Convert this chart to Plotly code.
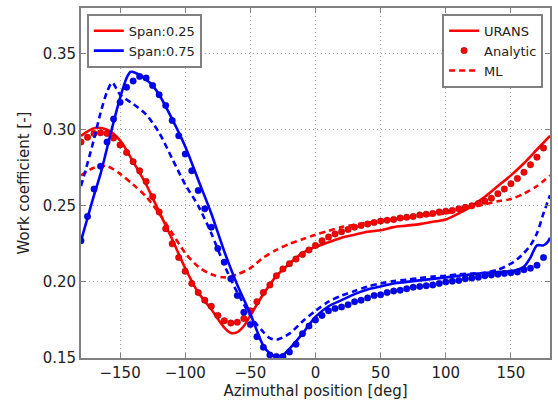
import plotly.graph_objects as go

# ---------------- data ----------------
# Span 0.25 (red)
red_urans_x = [-180, -170, -160, -150, -140, -130, -120, -110, -100, -90, -80, -70, -65, -60, -55, -50,
               -40, -30, -20, -10, 0, 10, 20, 30, 40, 50, 60, 70, 80, 90, 100, 110, 120, 130, 140, 150,
               160, 170, 180]
red_urans_y = [0.296, 0.301, 0.300, 0.293, 0.279, 0.264, 0.246, 0.228, 0.209, 0.193, 0.182, 0.170, 0.1665,
               0.167, 0.171, 0.178, 0.192, 0.204, 0.212, 0.219, 0.223, 0.226, 0.229, 0.231, 0.233, 0.234,
               0.236, 0.237, 0.238, 0.2395, 0.241, 0.245, 0.250, 0.256, 0.263, 0.270, 0.278, 0.287, 0.296]

analytic_x = list(range(-180, 180, 5))
red_analytic_y = [0.292, 0.295, 0.2975, 0.298, 0.2975, 0.2945, 0.290, 0.285, 0.279, 0.273,
                  0.266, 0.256, 0.246, 0.235, 0.225, 0.216, 0.207, 0.199, 0.193, 0.188,
                  0.184, 0.178, 0.1745, 0.173, 0.1735, 0.176, 0.181, 0.187, 0.193, 0.198,
                  0.204, 0.2085, 0.212, 0.215, 0.218, 0.221, 0.224, 0.227, 0.2295, 0.2315,
                  0.233, 0.2345, 0.236, 0.237, 0.238, 0.239, 0.240, 0.2405, 0.241, 0.242,
                  0.2425, 0.243, 0.244, 0.2445, 0.245, 0.246, 0.2465, 0.247, 0.248, 0.249,
                  0.250, 0.2515, 0.253, 0.255, 0.258, 0.261, 0.2645, 0.268, 0.272, 0.277,
                  0.282, 0.288]

red_ml_x = [-180, -170, -160, -150, -140, -130, -120, -110, -100, -90, -80, -70, -60, -50, -40, -30,
            -20, -10, 0, 10, 20, 30, 40, 50, 60, 70, 80, 90, 100, 110, 120, 130, 140, 150, 160, 170, 180]
red_ml_y = [0.270, 0.275, 0.276, 0.271, 0.264, 0.256, 0.245, 0.232, 0.219, 0.210, 0.205, 0.203, 0.205,
            0.209, 0.216, 0.221, 0.225, 0.228, 0.231, 0.2335, 0.236, 0.2375, 0.239, 0.240, 0.241, 0.242,
            0.243, 0.244, 0.245, 0.247, 0.249, 0.251, 0.253, 0.2545, 0.258, 0.263, 0.270]

# Span 0.75 (blue)
blue_urans_x = [-180, -175, -170, -165, -160, -155, -150, -145, -142, -140, -135, -130, -125, -120,
                -110, -100, -90, -80, -70, -60, -50, -40, -35, -30, -25, -20, -10, 0, 10, 20, 30, 40,
                50, 60, 70, 80, 90, 100, 110, 120, 130, 140, 150, 155, 160, 165, 170, 175, 178, 180]
blue_urans_y = [0.227, 0.242, 0.257, 0.271, 0.288, 0.305, 0.321, 0.334, 0.338, 0.338, 0.336, 0.333,
                0.329, 0.323, 0.307, 0.289, 0.267, 0.245, 0.220, 0.198, 0.179, 0.158, 0.153, 0.151,
                0.152, 0.156, 0.166, 0.177, 0.184, 0.188, 0.192, 0.195, 0.197, 0.199, 0.200, 0.201,
                0.202, 0.203, 0.204, 0.205, 0.206, 0.2065, 0.207, 0.208, 0.210, 0.216, 0.224, 0.224,
                0.226, 0.229]

blue_analytic_y = [0.227, 0.243, 0.261, 0.276, 0.292, 0.307, 0.318, 0.328, 0.332, 0.335,
                   0.334, 0.329, 0.323, 0.316, 0.306, 0.296, 0.284, 0.273, 0.260, 0.248,
                   0.236, 0.222, 0.213, 0.202, 0.191, 0.180, 0.172, 0.164, 0.157, 0.152,
                   0.151, 0.151, 0.154, 0.159, 0.166, 0.171, 0.175, 0.178, 0.181, 0.1825,
                   0.1835, 0.185, 0.187, 0.188, 0.1895, 0.191, 0.1915, 0.193, 0.194, 0.1945,
                   0.1955, 0.1965, 0.197, 0.1975, 0.198, 0.199, 0.200, 0.2005, 0.201, 0.202,
                   0.2025, 0.203, 0.204, 0.2045, 0.205, 0.2055, 0.206, 0.2065, 0.208, 0.209,
                   0.211, 0.216]

blue_ml_x = [-180, -175, -170, -165, -160, -156, -150, -140, -130, -120, -110, -100, -90, -80, -70,
             -60, -50, -45, -40, -35, -30, -20, -10, 0, 10, 20, 30, 40, 50, 60, 70, 80, 90, 100, 110,
             120, 130, 140, 150, 155, 160, 165, 170, 175, 180]
blue_ml_y = [0.263, 0.278, 0.294, 0.311, 0.325, 0.331, 0.323, 0.317, 0.310, 0.298, 0.281, 0.264,
             0.250, 0.232, 0.211, 0.193, 0.178, 0.172, 0.167, 0.163, 0.162, 0.166, 0.174, 0.181,
             0.187, 0.191, 0.194, 0.197, 0.199, 0.2005, 0.2015, 0.2025, 0.2035, 0.204, 0.205,
             0.2055, 0.206, 0.208, 0.212, 0.215, 0.219, 0.224, 0.232, 0.245, 0.257]

x_ticks = [-150, -100, -50, 0, 50, 100, 150]
y_ticks = [0.15, 0.20, 0.25, 0.30, 0.35]

RED = "#ff0000"
BLUE = "#0000ff"
FONT = "DejaVu Sans"
DASH = "6px,4px"

fig = go.Figure()

for color, edge, ux, uy, ay, mx, my in [
    (RED, "rgba(70,0,0,0.6)", red_urans_x, red_urans_y, red_analytic_y, red_ml_x, red_ml_y),
    (BLUE, "rgba(0,0,70,0.6)", blue_urans_x, blue_urans_y, blue_analytic_y, blue_ml_x, blue_ml_y),
]:
    fig.add_trace(go.Scatter(x=ux, y=uy, mode="lines", showlegend=False,
                             line=dict(color=color, width=2.6, shape="spline", smoothing=0.8)))
    fig.add_trace(go.Scatter(x=analytic_x, y=ay, mode="markers", showlegend=False,
                             marker=dict(color=color, size=6.5, line=dict(color=edge, width=0.6))))
    fig.add_trace(go.Scatter(x=mx, y=my, mode="lines", showlegend=False,
                             line=dict(color=color, width=2.6, dash=DASH, shape="spline", smoothing=0.8)))

# legend proxies
fig.add_trace(go.Scatter(x=[None], y=[None], mode="lines", name="Span:0.25",
                         line=dict(color=RED, width=2.6), legend="legend"))
fig.add_trace(go.Scatter(x=[None], y=[None], mode="lines", name="Span:0.75",
                         line=dict(color=BLUE, width=2.6), legend="legend"))
fig.add_trace(go.Scatter(x=[None], y=[None], mode="lines", name="URANS",
                         line=dict(color=RED, width=2.6), legend="legend2"))
fig.add_trace(go.Scatter(x=[None], y=[None], mode="markers", name="Analytic",
                         marker=dict(color=RED, size=6.5, line=dict(color="rgba(70,0,0,0.6)", width=0.6)),
                         legend="legend2"))
fig.add_trace(go.Scatter(x=[None], y=[None], mode="lines", name="ML",
                         line=dict(color=RED, width=2.6, dash=DASH), legend="legend2"))

axis_common = dict(
    showline=True, linecolor="#808080", linewidth=1.8, mirror="ticks",
    ticks="inside", ticklen=5, tickcolor="#808080", tickwidth=1,
    showgrid=True, gridcolor="#a8a8a8", griddash="1px,3px", gridwidth=1,
    zeroline=False, tickfont=dict(family=FONT, size=15, color="#222222"),
    automargin=False,
)

fig.update_layout(
    width=558, height=405,
    margin=dict(l=81, r=8, t=8, b=47),
    paper_bgcolor="white", plot_bgcolor="white",
    font=dict(family=FONT, color="#222222"),
    xaxis=dict(range=[-180, 180], tickvals=x_ticks, **axis_common,
               title=dict(text="Azimuthal position [deg]", font=dict(family=FONT, size=15), standoff=2)),
    yaxis=dict(range=[0.15, 0.38], tickvals=y_ticks, tickformat=".2f", **axis_common,
               title=dict(text="Work coefficient [-]", font=dict(family=FONT, size=15), standoff=9)),
    legend=dict(x=0.0128, y=0.983, xanchor="left", yanchor="top",
                bordercolor="#808080", borderwidth=1.8, bgcolor="white",
                font=dict(family=FONT, size=13, color="#222222"), tracegroupgap=0),
    legend2=dict(x=0.9857, y=0.983, xanchor="right", yanchor="top",
                 bordercolor="#808080", borderwidth=1.8, bgcolor="white",
                 font=dict(family=FONT, size=13, color="#222222"), tracegroupgap=0),
    showlegend=True,
)

fig.write_html("out.html", config={"displayModeBar": False},
               post_script="document.body.style.margin='0';document.body.style.overflow='hidden';")
